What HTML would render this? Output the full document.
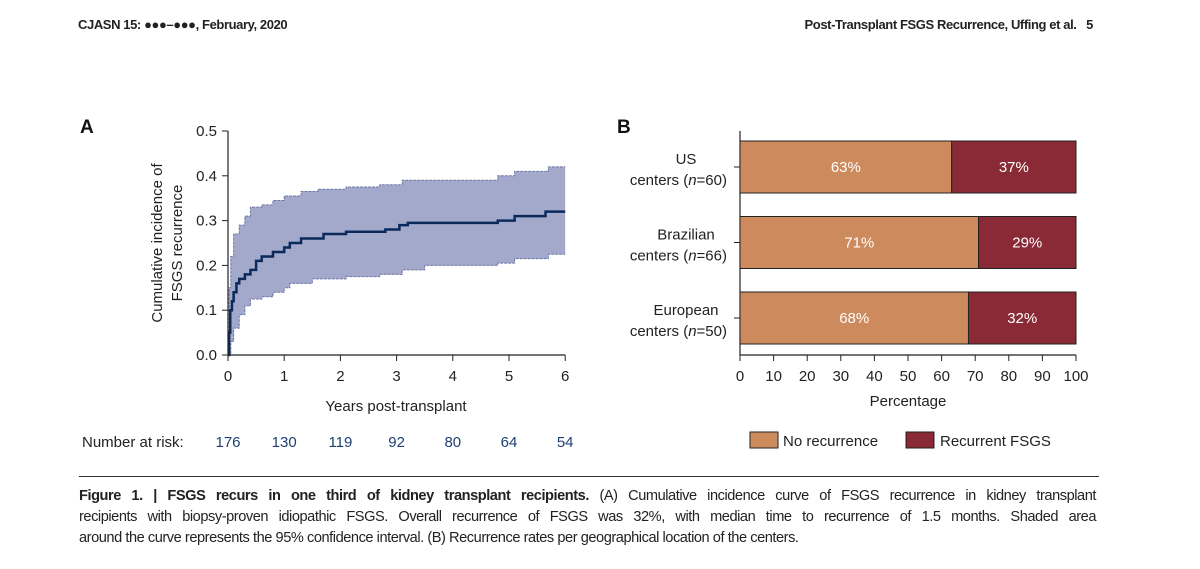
<!DOCTYPE html>
<html><head><meta charset="utf-8"><style>
body{margin:0;width:1200px;height:569px;background:#fff;overflow:hidden;font-family:"Liberation Sans",sans-serif}
.hdr{position:absolute;top:17px;font-family:"Liberation Sans",sans-serif;font-weight:bold;font-size:13px;color:#222;letter-spacing:-0.4px}
.cap{position:absolute;left:79px;top:486px;width:1017px;font-family:"Liberation Sans",sans-serif;font-size:14.6px;line-height:21px;color:#222;letter-spacing:-0.45px}
.cap div{text-align:justify;text-align-last:justify;white-space:nowrap}
.cap div.last{text-align-last:left}
</style></head><body>
<div class="hdr" style="left:78px">CJASN 15: ●●●–●●●, February, 2020</div>
<div class="hdr" style="left:765px;width:328px;text-align:right">Post-Transplant FSGS Recurrence, Uffing et al.&nbsp;&nbsp; 5</div>
<svg id="svg" width="1200" height="480" style="position:absolute;left:0;top:0" font-family="Liberation Sans, sans-serif"></svg>
<div style="position:absolute;left:79px;top:476px;width:1020px;border-top:1.5px solid #333"></div>
<div class="cap"><div><b>Figure 1. | FSGS recurs in one third of kidney transplant recipients.</b> (A) Cumulative incidence curve of FSGS recurrence in kidney transplant</div><div>recipients with biopsy-proven idiopathic FSGS. Overall recurrence of FSGS was 32%, with median time to recurrence of 1.5 months. Shaded area</div><div class="last">around the curve represents the 95% confidence interval. (B) Recurrence rates per geographical location of the centers.</div></div>
<script>
const estT=[0,0.02,0.04,0.07,0.1,0.15,0.2,0.3,0.4,0.5,0.6,0.8,1.0,1.1,1.3,1.7,2.1,2.8,3.05,3.2,4.8,5.1,5.65,6];
const estV=[0,0.05,0.1,0.12,0.14,0.16,0.17,0.18,0.19,0.21,0.22,0.23,0.24,0.25,0.26,0.27,0.275,0.28,0.29,0.295,0.30,0.31,0.32,0.32];
const upT=[0,0.02,0.05,0.1,0.2,0.3,0.4,0.6,0.8,1.0,1.3,1.6,2.1,2.7,3.1,4.8,5.1,5.7,6];
const upV=[0,0.15,0.22,0.27,0.29,0.31,0.33,0.335,0.345,0.355,0.365,0.37,0.375,0.38,0.39,0.40,0.41,0.42,0.42];
const loT=[0,0.05,0.1,0.2,0.3,0.4,0.6,0.8,1.0,1.1,1.5,2.1,2.7,3.1,3.5,4.8,5.1,5.7,6];
const loV=[0,0.03,0.06,0.09,0.11,0.125,0.13,0.14,0.15,0.16,0.17,0.175,0.18,0.19,0.2,0.205,0.215,0.225,0.225];
const yTicks=[0,0.1,0.2,0.3,0.4,0.5];
const xTicks=[0,1,2,3,4,5,6];
const riskN=[176,130,119,92,80,64,54];
const centers=[["US","60"],["Brazilian","66"],["European","50"]];
const noRec=[63,71,68];
const rec=[37,29,32];
const pTicks=[0,10,20,30,40,50,60,70,80,90,100];

const NS="http://www.w3.org/2000/svg",svg=document.getElementById('svg');
function el(t,a,txt){const e=document.createElementNS(NS,t);for(const k in a)e.setAttribute(k,a[k]);if(txt!=null)e.textContent=txt;svg.appendChild(e);return e;}
const X=t=>228+t*56.2, Y=v=>355-v*448;
function stepPath(T,V){let d=`M${X(T[0])},${Y(V[0])}`;for(let i=1;i<T.length;i++){d+=`H${X(T[i])}V${Y(V[i])}`;}return d;}
function stepPts(T,V){const p=[[X(T[0]),Y(V[0])]];for(let i=1;i<T.length;i++){p.push([X(T[i]),Y(V[i-1])]);p.push([X(T[i]),Y(V[i])]);}return p;}
const up=stepPts(upT,upV),lo=stepPts(loT,loV).reverse();
let band=el('polygon',{points:up.concat(lo).map(p=>p.join(',')).join(' '),fill:'#a3a9cb'});


el('path',{d:stepPath(upT,upV),fill:'none',stroke:'#6f78a8','stroke-width':1,'stroke-dasharray':'3,1'});
el('path',{d:stepPath(loT,loV),fill:'none',stroke:'#6f78a8','stroke-width':1,'stroke-dasharray':'3,1'});
let cur=el('path',{d:stepPath(estT,estV),fill:'none',stroke:'#0b2a5c','stroke-width':2.5});


el('line',{x1:228,y1:Y(0.5),x2:228,y2:355,stroke:'#222','stroke-width':1.2});
el('line',{x1:228,y1:355,x2:X(6),y2:355,stroke:'#222','stroke-width':1.2});
yTicks.forEach(v=>{el('line',{x1:222,x2:228,y1:Y(v),y2:Y(v),stroke:'#222'});
 let t=el('text',{x:217,y:Y(v)+5,'text-anchor':'end','font-size':15,fill:'#222'},v.toFixed(1));
 });
xTicks.forEach(v=>{el('line',{x1:X(v),x2:X(v),y1:355,y2:361,stroke:'#222'});
 let t=el('text',{x:X(v),y:381,'text-anchor':'middle','font-size':15,fill:'#222'},v);
 });
let xt=el('text',{x:396,y:411,'text-anchor':'middle','font-size':15,fill:'#222'},'Years post-transplant');

let yt=el('text',{transform:'translate(162,243) rotate(-90)','text-anchor':'middle','font-size':15,fill:'#222'});

yt.innerHTML='<tspan x="0" dy="0">Cumulative incidence of</tspan><tspan x="0" dy="20">FSGS recurrence</tspan>';
el('text',{x:82,y:447,'font-size':15,fill:'#222'},'Number at risk:');
riskN.forEach((n,i)=>{let t=el('text',{x:X(i),y:447,'text-anchor':'middle','font-size':15,fill:'#1f3f73'},n);
 });
el('text',{x:80,y:133,'font-size':19,'font-weight':'bold',fill:'#111'},'A');
el('text',{x:617,y:133,'font-size':19,'font-weight':'bold',fill:'#111'},'B');
const PX=p=>740+p*3.36;
el('line',{x1:740,y1:131,x2:740,y2:355,stroke:'#222','stroke-width':1.2});
el('line',{x1:740,y1:355,x2:PX(100),y2:355,stroke:'#222','stroke-width':1.2});
centers.forEach((c,i)=>{const y0=141+i*75.5,h=52;
 let a=el('rect',{x:PX(0),y:y0,width:PX(noRec[i])-PX(0),height:h,fill:'#cd8a5d',stroke:'#222'});
 
 let b=el('rect',{x:PX(noRec[i]),y:y0,width:PX(noRec[i]+rec[i])-PX(noRec[i]),height:h,fill:'#8b2a37',stroke:'#222'});
 
 el('text',{x:(PX(0)+PX(noRec[i]))/2,y:y0+h/2+5,'text-anchor':'middle','font-size':15,fill:'#fff'},noRec[i]+'%');
 el('text',{x:(PX(noRec[i])+PX(100))/2,y:y0+h/2+5,'text-anchor':'middle','font-size':15,fill:'#fff'},rec[i]+'%');
 el('line',{x1:734,x2:740,y1:y0+h/2,y2:y0+h/2,stroke:'#222'});
 el('text',{x:686,y:y0+h/2-3,'text-anchor':'middle','font-size':15,fill:'#222'},c[0]);
 let t=el('text',{x:727,y:y0+h/2+18,'text-anchor':'end','font-size':15,fill:'#222'});
 
 t.innerHTML='centers (<tspan font-style="italic">n</tspan>='+c[1]+')';});
pTicks.forEach(v=>{el('line',{x1:PX(v),x2:PX(v),y1:355,y2:361,stroke:'#222'});
 el('text',{x:PX(v),y:381,'text-anchor':'middle','font-size':15,fill:'#222'},v);});
el('text',{x:908,y:406,'text-anchor':'middle','font-size':15,fill:'#222'},'Percentage');
let l1=el('rect',{x:750,y:432,width:28,height:16,fill:'#cd8a5d',stroke:'#222'});

el('text',{x:783,y:446,'font-size':15,fill:'#222'},'No recurrence');
let l2=el('rect',{x:906,y:432,width:28,height:16,fill:'#8b2a37',stroke:'#222'});

el('text',{x:940,y:446,'font-size':15,fill:'#222'},'Recurrent FSGS');
</script>
</body></html>
